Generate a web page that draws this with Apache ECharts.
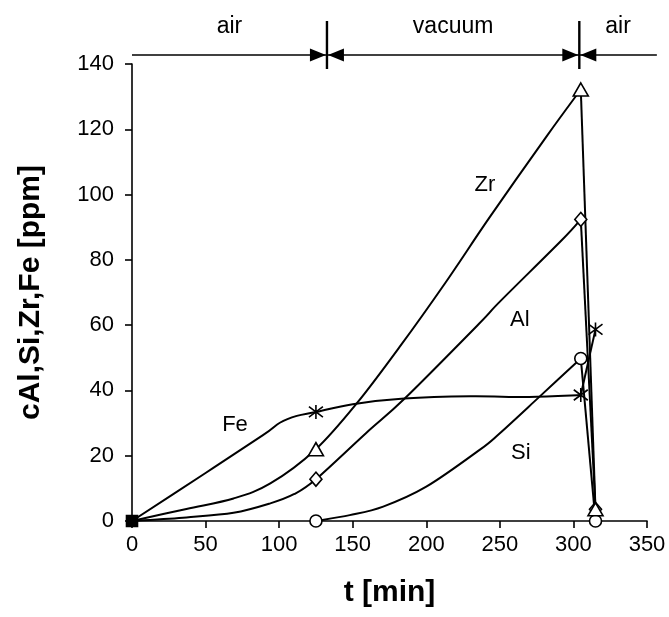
<!DOCTYPE html>
<html><head><meta charset="utf-8">
<script src="https://cdn.jsdelivr.net/npm/echarts@6/dist/echarts.min.js"></script>
<style>html,body{margin:0;padding:0;background:#fff;} #c{width:669px;height:617px;}</style>
</head><body><div id="c"></div>
<script>
// ---- data (t in min, c in ppm) ----
// curve traces (up to t = 305)
const feCurve = [[0,0],[50,14.7],[89,26.3],[100.5,30.1],[112,32.2],[125,33.4],[150,35.8],[185,37.5],[230,38.2],[270,38.0],[305,38.6]];
const zrCurve = [[0,0],[37,3.7],[69,6.9],[94,11.5],[125,22],[152.7,36],[182,53.4],[213,73],[243,93],[282,118],[305,132.2]];
const alCurve = [[0,0],[37,1.1],[69,2.5],[94,5.4],[110,8.2],[125,12.8],[159,26.9],[185.5,37.6],[236,60.5],[250,67.2],[292,86],[305,92.4]];
const siCurve = [[125,0],[148,1.8],[170.7,4.4],[200,10.5],[236,21.7],[250,26.9],[277,38.1],[305,49.8]];
// measured points (markers)
const feMarks = [[125,33.4],[305,38.6],[315,58.7]];
const zrMarks = [[125,22],[305,132.2],[315,3.6]];
const alMarks = [[125,12.8],[305,92.4],[315,3.6]];
const siMarks = [[125,0],[305,49.8],[315,0]];
const originMark = [[0,0]];
// axes
const xMin = 0, xMax = 350, xStep = 50;
const yMin = 0, yMax = 140, yStep = 20;
// annotations
const phaseBounds = [0, 132.5, 304, 356.7];
const phaseNames = ['air', 'vacuum', 'air'];
const curveLabels = [
  {text:'Zr', t:239.8, c:102.9},
  {text:'Al', t:263.6, c:61.6},
  {text:'Si', t:264.3, c:20.8},
  {text:'Fe', t:70, c:29.4}
];

const FONT = "'Liberation Sans', Arial, Helvetica, sans-serif";
const lineStyle = {color:'#000', width:2};
const starPath = 'path://M0,-1L0,1M-0.75,-0.75L0.75,0.75M-0.75,0.75L0.75,-0.75';

// Catmull-Rom style smoothing (pixel space) through the traced points
function buildPath(pts){
  let d = 'M' + pts[0][0] + ',' + pts[0][1];
  for (let i = 0; i < pts.length - 1; i++){
    const p0 = pts[i-1] || pts[i], p1 = pts[i], p2 = pts[i+1], p3 = pts[i+2] || pts[i+1];
    const c1x = p1[0] + (p2[0]-p0[0])/6, c1y = p1[1] + (p2[1]-p0[1])/6;
    const c2x = p2[0] - (p3[0]-p1[0])/6, c2y = p2[1] - (p3[1]-p1[1])/6;
    d += 'C' + c1x + ',' + c1y + ',' + c2x + ',' + c2y + ',' + p2[0] + ',' + p2[1];
  }
  return d;
}
function curve(data){
  return {type:'custom', data:data, z:2, silent:true, animation:false, clip:false,
    encode:{x:0, y:1},
    renderItem:function(params, api){
      if (params.dataIndex !== 0) return null;
      const pts = data.map(p => api.coord(p));
      return {type:'path', shape:{pathData:buildPath(pts)}, style:{stroke:'#000', fill:'none', lineWidth:2}};
    }};
}
function drop(marks){
  return {type:'line', data:[marks[1], marks[2]], smooth:false, symbol:'none', lineStyle:lineStyle, z:2, silent:true, animation:false};
}
function marks(data, symbol, size, fill){
  return {type:'scatter', data:data, symbol:symbol, symbolSize:size, z:5, animation:false,
    itemStyle:{color:fill, borderColor:'#000', borderWidth:1.6, opacity:1}};
}

const option = {
  backgroundColor:'#fff',
  animation:false,
  grid:{left:132, right:22, top:64, bottom:96, containLabel:false, outerBoundsMode:'none'},
  xAxis:{
    type:'value', min:xMin, max:xMax, interval:xStep,
    name:'t [min]', nameLocation:'middle', nameGap:57,
    nameTextStyle:{fontFamily:FONT, fontSize:30, fontWeight:'bold', color:'#000'},
    axisLine:{show:true, lineStyle:{color:'#000', width:1.6}},
    axisTick:{show:true, inside:false, length:7, lineStyle:{color:'#000', width:1.6}},
    axisLabel:{fontFamily:FONT, fontSize:22, color:'#000', margin:13},
    splitLine:{show:false}
  },
  yAxis:{
    type:'value', min:yMin, max:yMax, interval:yStep,
    name:'cAl,Si,Zr,Fe [ppm]', nameLocation:'middle', nameGap:86,
    nameTextStyle:{fontFamily:FONT, fontSize:30, fontWeight:'bold', color:'#000'},
    axisLine:{show:true, lineStyle:{color:'#000', width:1.6}},
    axisTick:{show:true, inside:false, length:7, lineStyle:{color:'#000', width:1.6}},
    axisLabel:{fontFamily:FONT, fontSize:22, color:'#000', margin:18},
    splitLine:{show:false}
  },
  series:[
    curve(feCurve), curve(zrCurve), curve(alCurve), curve(siCurve),
    drop(feMarks), drop(zrMarks), drop(alMarks), drop(siMarks),
    marks(alMarks, 'diamond', [12,14], '#fff'),
    marks(siMarks, 'circle', 12, '#fff'),
    marks(zrMarks, 'triangle', [15,13], '#fff'),
    marks(feMarks, starPath, 14, '#000'),
    marks(originMark, 'rect', 11, '#000')
  ]
};

const chart = echarts.init(document.getElementById('c'), null, {renderer:'canvas'});
chart.setOption(option);

const P = (t, c) => chart.convertToPixel({gridIndex:0}, [t, c]);
const topY = P(0, yMax)[1];
const ly = topY - 9;
const g = [];
g.push({type:'line', shape:{x1:P(phaseBounds[0],0)[0], y1:ly, x2:P(phaseBounds[3],0)[0], y2:ly}, style:{stroke:'#000', lineWidth:1.6}});
[phaseBounds[1], phaseBounds[2]].forEach(b => {
  const bx = P(b, 0)[0];
  g.push({type:'line', shape:{x1:bx, y1:topY-43, x2:bx, y2:topY+5}, style:{stroke:'#000', lineWidth:2.4}});
  g.push({type:'polygon', shape:{points:[[bx-1,ly],[bx-17,ly-6.5],[bx-17,ly+6.5]]}, style:{fill:'#000'}});
  g.push({type:'polygon', shape:{points:[[bx+1,ly],[bx+17,ly-6.5],[bx+17,ly+6.5]]}, style:{fill:'#000'}});
});
phaseNames.forEach((n, i) => {
  const cx = (P(phaseBounds[i],0)[0] + P(phaseBounds[i+1],0)[0]) / 2;
  g.push({type:'text', style:{text:n, x:cx, y:topY-37, align:'center', verticalAlign:'middle', fontFamily:FONT, fontSize:23, fill:'#000'}});
});
curveLabels.forEach(l => {
  const p = P(l.t, l.c);
  g.push({type:'text', style:{text:l.text, x:p[0], y:p[1], align:'center', verticalAlign:'middle', fontFamily:FONT, fontSize:22, fill:'#000'}});
});
chart.setOption({graphic:{elements:g}});
</script>
</body></html>
